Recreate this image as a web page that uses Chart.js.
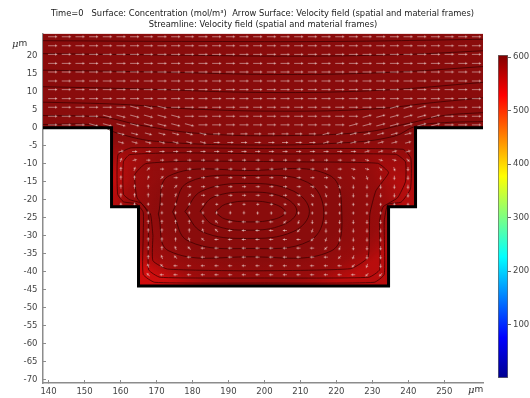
<!DOCTYPE html>
<html><head><meta charset="utf-8">
<script src="https://cdn.jsdelivr.net/npm/chart.js@4.4.1/dist/chart.umd.min.js"></script>
<style>
html,body{margin:0;padding:0;background:#fff;}
#wrap{position:relative;width:530px;height:398px;overflow:hidden;background:#fff;}
#main{position:absolute;left:0;top:0;}
#cbar{position:absolute;left:488px;top:40px;}
</style></head><body>
<div id="wrap"><canvas id="main" width="530" height="398"></canvas><canvas id="cbar" width="42" height="350"></canvas></div>
<script>
// ---------------- DATA ----------------
const titleLines = [
  "Time=0   Surface: Concentration (mol/m\u00B3)  Arrow Surface: Velocity field (spatial and material frames)",
  "Streamline: Velocity field (spatial and material frames)"
];
const xRange = [138.45, 260.75];          // µm
const yRange = [-71.0, 26.2];             // µm
const xTickVals = [140,150,160,170,180,190,200,210,220,230,240,250];
const yTickVals = [-70,-65,-60,-55,-50,-45,-40,-35,-30,-25,-20,-15,-10,-5,0,5,10,15,20];
const channelTop = 26.2;
// lower boundary of the fluid domain (channel floor + stepped cavity)
const boundaryX = [138.45,157.5,157.5,165,165,234.5,234.5,242,242,260.75];
const boundaryY = [0,0,-22,-22,-44,-44,-22,-22,0,0];
// cavity part
const cavityX = [157.5,157.5,165,165,234.5,234.5,242,242];
const cavityY = [0,-22,-22,-44,-44,-22,-22,0];
const cavityTop = 0;
// colour range of the concentration surface
const colorRange = [0, 604];
const colorTicks = [100,200,300,400,500,600];

// streamlines in the channel (x, y in µm)
const channelStreams = [
  [[138.45,24.2],[180,24.0],[220,24.0],[260.75,24.6]],
  [[138.45,20.6],[175,20.2],[210,19.9],[240,20.4],[260.75,21.4]],
  [[138.45,16.0],[170,15.5],[205,14.8],[235,15.4],[260.75,17.0]],
  [[138.45,11.4],[165,10.8],[200,9.8],[232,10.4],[260.75,12.6]],
  [[138.45,7.1],[160,6.5],[180,5.2],[205,4.6],[230,5.2],[247,7.0],[260.75,8.3]],
  [[138.45,3.4],[155,2.9],[166,0.6],[182,-1.6],[205,-2.2],[228,-1.2],[240,1.2],[250,3.4],[260.75,4.2]],
  [[138.45,0.9],[153,0.7],[160,-1.8],[170,-3.8],[195,-4.8],[222,-4.2],[236,-2.4],[242,0.4],[250,1.4],[260.75,1.7]]
];
// closed streamlines of the cavity vortex (inner, smooth)
const vortexLoops = [
  [[186.3,-23.5],[189.1,-21.3],[196,-20.4],[202.9,-21.3],[205.8,-23.5],[202.9,-25.4],[196,-26.2],[189.1,-25.4],[186.3,-23.5]],
  [[182.1,-23.2],[185.8,-19.3],[195.5,-17.9],[205.2,-19.3],[209,-23.2],[205.2,-27],[195.5,-28.5],[185.8,-27],[182.1,-23.2]],
  [[177.9,-23.3],[182.6,-17.6],[195.3,-15.5],[208,-17.6],[212.5,-23.3],[208,-28.9],[195.3,-30.8],[182.6,-28.9],[177.9,-23.3]],
  [[174.5,-23.4],[178.8,-15.2],[196,-13.3],[212,-15.2],[216.5,-23.4],[212.5,-31.5],[196,-33.6],[178.8,-31.5],[174.5,-23.4]],
  [[170.5,-24],[173.5,-13.4],[196,-11.9],[218,-13.2],[221.5,-24],[218.5,-34.3],[196,-35.9],[173.5,-34.3],[170.5,-24]]
];
// outer closed streamlines that follow the stepped walls
const wallLoops = [
  [[169,-30],[169,-37],[173,-39.3],[196,-39.8],[224,-39.2],[228.8,-36],[229.3,-24],[231,-17.5],[234.5,-12.5],[231.5,-9.9],[210,-9.5],[180,-9.3],[167,-10],[164,-13],[164.6,-19.5],[168.3,-24],[169,-30]],
  [[167.8,-30],[167.8,-39.5],[171,-41.6],[200,-41.8],[229,-41.6],[232,-39.5],[232,-26],[233,-22],[237,-19.5],[239.2,-15],[239.2,-9.5],[236.5,-7.4],[205,-7.3],[175,-7],[162.5,-7.5],[160.8,-9.5],[160.8,-18.5],[162.5,-20],[165.8,-21],[167.8,-24],[167.8,-30]],
  [[166.3,-30],[166.3,-40.8],[169.5,-43],[200,-43.2],[230.5,-43],[233.3,-40.8],[233.3,-26],[234.3,-21.3],[238,-20.7],[240.6,-17],[240.7,-8.5],[238.5,-6],[200,-5.8],[163,-5.6],[159.3,-7.5],[159.2,-18.5],[160.8,-20.6],[164.5,-21.2],[166.3,-23.5],[166.3,-30]]
];

// arrow grid (µm) and arrow direction per cell, read row by row
const arrowX = [141.1,144.9,148.7,152.5,156.3,160.1,163.9,167.7,171.5,175.3,179.1,182.9,186.7,190.5,194.3,198.1,
                201.9,205.7,209.5,213.3,217.1,220.9,224.7,228.5,232.3,236.1,239.9,243.7,247.5,251.3,255.1,258.9];
const arrowY = [25.3,22.8,20.4,17.9,15.5,13.0,10.6,8.1,5.7,3.2,0.8,-1.7,-4.1,-6.6,-9.0,-11.5,-13.9,-16.4,-18.8,-21.3,
                -23.7,-26.2,-28.6,-31.1,-33.5,-36.0,-38.4,-40.9];
const arrowDir = [
  "rrrrrrrrrrrrrrrrrrrrrrrrrrrrrrrr",
  "rrrrrrrrrrrrrrrrrrrrrrrrrrrrrrrr",
  "rrrrrrrrrrrrrrrrrrrrrrrrrrrrrrrr",
  "rrrrrrrrrrrrrrrrrrrrrrrrrrrrrrrr",
  "rrrrrrrrrrrrrrrrrrrrrrrrrrrrrrrr",
  "rrrrrrrrrrrrrrrrrrrrrrrrrrrrrrrr",
  "rrrrrrrrrrrrrrrrrrrrrrrrrrrrrrrr",
  "rrrrrrrrrrrrrrrrrrrrrrrrrrrrrrrr",
  "rrrrrrfffrrrrrrrrrrrrrrrreeerrrr",
  "rrrrffffffrrrrrrrrrrrrreeeeeerrr",
  "rrrffffffffrrrrrrrrrrreeeeeeerrr",
  ".....fffffffrrrrrrrreeeeeee.....",
  ".....fffffffrrrrrrrreeeeeee.....",
  ".....errrrrrrrrrrrrrrrreeee.....",
  ".....jerrrrrrrrrrrrrrrrfffc.....",
  ".....ujqrrrrrrrrrrrrrrffcnd.....",
  ".....uujqrrrrrrrrrrrrfcnddd.....",
  ".....uuujqrrrrrrrrrfcnddddd.....",
  ".....uuuujqrrrrrrrfcndddddd.....",
  ".....uuuuujqrrrrrfcnddddddd.....",
  ".......uuuuuuuudddddddddd.......",
  ".......uuuuuyllllzmdddddd.......",
  ".......uuuukylllllzmddddd.......",
  ".......uuukylllllllzmdddd.......",
  ".......uukylllllllllzmddd.......",
  ".......ukylllllllllllzmdd.......",
  ".......kylllllllllllllzmd.......",
  ".......ylllllllllllllllzz......."
];
// relative speed per arrow row
const arrowSpeed = [1,1,1,1,1,1,1,1,1,1,0.95,0.75,0.62,0.52,0.45,0.42,0.42,0.42,0.4,0.36,0.3,0.38,0.42,0.45,0.45,0.45,0.45,0.42];
const dirAngle = {r:0,e:15,f:-15,q:45,c:-45,u:90,d:-90,l:180,j:70,k:110,m:-110,n:-70,y:135,z:-135};

// ---------------- BUILD ----------------
const pts = (xs, ys) => xs.map((x, i) => ({x, y: ys[i]}));
const pairPts = arr => arr.map(p => ({x: p[0], y: p[1]}));

const arrowPts = [];
arrowY.forEach((y, r) => {
  const row = arrowDir[r];
  arrowX.forEach((x, c) => {
    const ch = row[c];
    if (ch !== '.') arrowPts.push({x, y, a: dirAngle[ch], s: arrowSpeed[r]});
  });
});

const arrowCache = {};
function arrowImg(len) {
  const L = Math.max(2, Math.round(len * 2) / 2);
  if (arrowCache[L]) return arrowCache[L];
  const c = document.createElement('canvas');
  const w = Math.ceil(L) + 2, h = 5;
  c.width = w; c.height = h;
  const g = c.getContext('2d');
  g.strokeStyle = 'rgba(220,180,180,0.65)';
  g.lineWidth = 1;
  g.beginPath(); g.moveTo(1, 2.5); g.lineTo(w - 1.5, 2.5); g.stroke();
  g.fillStyle = 'rgba(235,205,200,0.75)';
  g.beginPath(); g.moveTo(w - 0.5, 2.5); g.lineTo(w - 3.0, 1.2); g.lineTo(w - 3.0, 3.8); g.closePath(); g.fill();
  arrowCache[L] = c;
  return c;
}

// shading of the cavity surface (brighter red along the cavity walls)
function cavityShade(ctx) {
  const ch = ctx.chart;
  if (!ch.chartArea) return 'rgba(0,0,0,0)';
  if (ch.$shade) return ch.$shade;
  const xs = ch.scales.x, ys = ch.scales.y;
  const c = document.createElement('canvas');
  c.width = ch.width; c.height = ch.height;
  const g = c.getContext('2d');
  const cx = xs.getPixelForValue(197), cy = ys.getPixelForValue(-22);
  g.save(); g.translate(cx, cy); g.scale(1, 0.6);
  const rg = g.createRadialGradient(0, 0, 0, 0, 0, 150);
  rg.addColorStop(0, 'rgba(222,12,12,0)');
  rg.addColorStop(0.6, 'rgba(222,12,12,0)');
  rg.addColorStop(0.85, 'rgba(222,12,12,0.25)');
  rg.addColorStop(1, 'rgba(235,14,14,0.72)');
  g.fillStyle = rg; g.fillRect(-400, -500, 800, 1000);
  g.restore();
  g.globalCompositeOperation = 'destination-in';
  const lg = g.createLinearGradient(0, ys.getPixelForValue(-3), 0, ys.getPixelForValue(-15));
  lg.addColorStop(0, 'rgba(0,0,0,0)'); lg.addColorStop(1, 'rgba(0,0,0,1)');
  g.fillStyle = lg; g.fillRect(0, 0, c.width, c.height);
  const dg = g.createLinearGradient(xs.getPixelForValue(240), ys.getPixelForValue(-10), xs.getPixelForValue(165), ys.getPixelForValue(-44));
  dg.addColorStop(0, 'rgba(0,0,0,0.55)'); dg.addColorStop(1, 'rgba(0,0,0,1)');
  g.fillStyle = dg; g.fillRect(0, 0, c.width, c.height);
  ch.$shade = ch.ctx.createPattern(c, 'no-repeat');
  return ch.$shade;
}

const streamStyle = {type:'line', fill: false, borderColor: 'rgba(55,0,0,0.72)', borderWidth: 1, pointRadius: 0, order: 3};
const datasets = [];
datasets.push({type:'line', data: pts(boundaryX, boundaryY), fill: {value: channelTop},
  backgroundColor: '#8a0c0c', borderWidth: 0, pointRadius: 0, tension: 0, order: 10});
datasets.push({type:'line', data: pts(cavityX, cavityY), fill: {value: cavityTop},
  backgroundColor: cavityShade, borderWidth: 0, pointRadius: 0, tension: 0, order: 9});
channelStreams.concat(vortexLoops).forEach(s => datasets.push(Object.assign({data: pairPts(s), tension: 0.4}, streamStyle)));
wallLoops.forEach(s => datasets.push(Object.assign({data: pairPts(s), tension: 0.15}, streamStyle)));
datasets.push({type:'scatter', data: arrowPts, pointRadius: 2,
  pointStyle: c => arrowImg(c.raw.s * 9), pointRotation: c => -c.raw.a, order: 2});
datasets.push({type:'line', data: pts(boundaryX, boundaryY), fill: false, borderColor: '#000',
  borderWidth: 3, pointRadius: 0, tension: 0, order: 1, borderJoinStyle: 'miter'});

const tickFont = {family: 'DejaVu Sans', size: 8.5};
const axisGray = '#8c8c8c';

const textPlugin = {
  id: 'texts',
  afterDraw(chart) {
    const g = chart.ctx;
    g.save();
    g.fillStyle = '#222';
    g.textAlign = 'center';
    g.textBaseline = 'middle';
    g.font = '8.35px "DejaVu Sans"';
    g.fillText(titleLines[0], 262.5, 13.5);
    g.fillText(titleLines[1], 263, 25);
    g.textAlign = 'left';
    g.fillStyle = '#333';
    const draw = (x, y) => {
      g.font = 'italic 10px "DejaVu Serif"';
      g.fillText('\u03BC', x, y);
      const w = g.measureText('\u03BC').width;
      g.font = '9px "DejaVu Sans"';
      g.fillText('m', x + w, y);
    };
    draw(12, 44);
    draw(468, 390);
    g.restore();
  }
};

new Chart(document.getElementById('main'), {
  type: 'scatter',
  data: {datasets},
  plugins: [textPlugin],
  options: {
    responsive: false, animation: false, devicePixelRatio: 1, events: [],
    layout: {padding: {left: 0, right: 47, top: 33.5, bottom: 0}},
    plugins: {legend: {display: false}, tooltip: {enabled: false}, title: {display: false}},
    scales: {
      x: {type: 'linear', min: xRange[0], max: xRange[1],
        afterBuildTicks: s => { s.ticks = xTickVals.map(v => ({value: v})); },
        afterFit: s => { s.height = 15; },
        ticks: {font: tickFont, color: '#444', padding: 7, maxRotation: 0, autoSkip: false},
        grid: {drawOnChartArea: false, tickLength: -3, color: axisGray, tickWidth: 1},
        border: {color: axisGray, width: 1.5}},
      y: {type: 'linear', min: yRange[0], max: yRange[1],
        afterBuildTicks: s => { s.ticks = yTickVals.map(v => ({value: v})); },
        afterFit: s => { s.width = 43; },
        ticks: {font: tickFont, color: '#444', padding: 8.5, autoSkip: false},
        grid: {drawOnChartArea: false, tickLength: -3, color: axisGray, tickWidth: 1},
        border: {color: axisGray, width: 1.5}}
    }
  }
});

function jet(ctx) {
  const ch = ctx.chart;
  if (!ch.chartArea) return '#800000';
  const a = ch.chartArea;
  const g = ch.ctx.createLinearGradient(0, a.bottom, 0, a.top);
  g.addColorStop(0, 'rgb(0,0,143)');
  g.addColorStop(0.125, 'rgb(0,0,255)');
  g.addColorStop(0.375, 'rgb(0,255,255)');
  g.addColorStop(0.625, 'rgb(255,255,0)');
  g.addColorStop(0.875, 'rgb(255,0,0)');
  g.addColorStop(1, 'rgb(128,0,0)');
  return g;
}

new Chart(document.getElementById('cbar'), {
  type: 'bar',
  data: {labels: [''], datasets: [{data: [colorRange], backgroundColor: jet, borderColor: '#666',
    borderWidth: 1, borderSkipped: false, barPercentage: 1, categoryPercentage: 1}]},
  options: {
    responsive: false, animation: false, devicePixelRatio: 1, events: [],
    layout: {padding: {left: 10, right: 0, top: 15, bottom: 12}},
    plugins: {legend: {display: false}, tooltip: {enabled: false}},
    scales: {
      x: {display: false},
      y: {position: 'right', min: colorRange[0], max: colorRange[1],
        afterBuildTicks: s => { s.ticks = colorTicks.map(v => ({value: v})); },
        afterFit: s => { s.width = 22; },
        ticks: {font: tickFont, color: '#444', padding: 2},
        grid: {drawOnChartArea: false, tickLength: 3, color: '#666'},
        border: {display: false}}
    }
  }
});
</script>
</body></html>
